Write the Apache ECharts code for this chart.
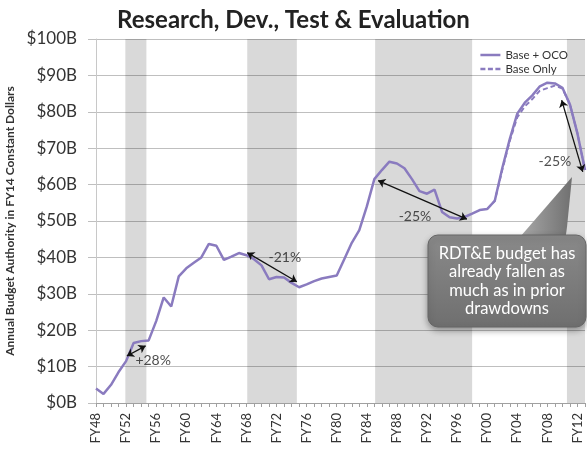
<!DOCTYPE html>
<html>
<head>
<meta charset="utf-8">
<script src="https://cdn.jsdelivr.net/npm/echarts@6/dist/echarts.min.js"></script>
<style>
  html, body { margin: 0; padding: 0; background: #fff; }
  #chart { width: 587px; height: 449px; }
</style>
</head>
<body>
<div id="chart"></div>
<script>
// fiscal years FY48..FY13
const years = [];
for (let y = 1948; y <= 2013; y++) years.push(y);
const categories = years.map(y => 'FY' + String(y).slice(2));

// $B, FY14 constant dollars
const baseOco = [
  4.0, 2.5, 5.0, 8.5, 11.5, 16.5, 17.0, 17.2, 22.5, 29.0,   // 48-57
  26.5, 34.8, 37.0, 38.5, 40.0, 43.7, 43.2, 39.3, 40.2, 41.2, // 58-67
  40.6, 39.5, 37.8, 34.0, 34.6, 34.5, 33.0, 31.8, 32.6, 33.5, // 68-77
  34.2, 34.6, 35.0, 39.5, 44.0, 47.5, 54.0, 61.5, 64.0, 66.3, // 78-87
  65.8, 64.5, 61.5, 58.2, 57.5, 58.6, 52.5, 51.0, 50.7, 51.1, // 88-97
  52.0, 53.0, 53.3, 55.5, 64.5, 72.5, 79.5, 82.5, 84.5, 87.0, // 98-07
  88.0, 87.8, 86.6, 82.0, 74.0, 64.0                          // 08-13
];
// base only differs once OCO funding starts
const baseOnly = [
  null, null, null, null, null, null, null, null, null, null,
  null, null, null, null, null, null, null, null, null, null,
  null, null, null, null, null, null, null, null, null, null,
  null, null, null, null, null, null, null, null, null, null,
  null, null, null, null, null, null, null, null, null, null,
  null, null, 53.3, 55.5, 64.0, 72.0, 78.5, 81.5, 83.5, 85.8,
  86.5, 87.2, 86.4, 82.0, 74.0, 64.0
];

// drawdown periods (gray bands), in fiscal years
const bands = [[1951.9, 1954.7], [1968.1, 1974.7], [1985.1, 1998.0], [2010.6, 2013]];

// double arrows [from, to] as [year, $B]
const arrows = [
  [[1952.1, 12.9], [1954.6, 15.7]],
  [[1968.1, 41.3], [1974.7, 33.3]],
  [[1985.5, 61.1], [1997.3, 50.5]],
  [[2009.9, 83.2], [2012.7, 63.5]]
];
const arrowLabels = [
  { name: '+28%', value: [1955.6, 11.8] },
  { name: '-21%', value: [1973.1, 40.1] },
  { name: '-25%', value: [1990.4, 51.2] },
  { name: '-25%', value: [2009.0, 66.3] }
];

const purple = '#8a7bbf';
const font = 'Lato';

const chart = echarts.init(document.getElementById('chart'));
chart.setOption({
  backgroundColor: '#fff',
  textStyle: { fontFamily: font },
  title: {
    text: 'Research, Dev., Test & Evaluation',
    left: 'center',
    top: 3,
    textStyle: { fontSize: 24, fontWeight: 'bold', color: '#222', fontFamily: font }
  },
  legend: {
    orient: 'vertical',
    right: 14,
    top: 44,
    itemWidth: 20,
    itemHeight: 2.5,
    itemGap: 2,
    textStyle: { fontSize: 11.5, color: '#333' },
    data: [
      { name: 'Base + OCO', icon: 'path://M0,0h20v2.5h-20z' },
      { name: 'Base Only', icon: 'path://M0,0h5v2.5h-5zM7.5,0h5v2.5h-5zM15,0h5v2.5h-5z' }
    ]
  },
  grid: { left: 96, right: 2, top: 39, bottom: 46, outerBoundsMode: 'none' },
  xAxis: [
    {
      type: 'category',
      data: categories,
      boundaryGap: false,
      axisLine: { lineStyle: { color: '#a0a0a0' } },
      axisTick: { interval: 0, length: 4, lineStyle: { color: '#a0a0a0' } },
      axisLabel: { interval: 3, rotate: 90, fontSize: 13, color: '#333', margin: 10 }
    },
    { type: 'value', min: 1948, max: 2013, show: false }
  ],
  yAxis: {
    type: 'value',
    min: 0,
    max: 100,
    interval: 10,
    name: 'Annual Budget Authority in FY14 Constant Dollars',
    nameLocation: 'middle',
    nameGap: 73,
    nameTextStyle: { fontSize: 12, fontWeight: 'bold', color: '#333' },
    axisLine: { show: true, lineStyle: { color: '#c8c8c8' } },
    axisTick: { show: true, length: 8, lineStyle: { color: '#bfbfbf' } },
    axisLabel: { formatter: '${value}B', fontSize: 17, color: '#333', margin: 19 },
    splitLine: { lineStyle: { color: '#bfbfbf' } }
  },
  series: [
    {
      name: 'bands',
      type: 'scatter',
      xAxisIndex: 1,
      data: [],
      z: 1,
      markArea: {
        silent: true,
        itemStyle: { color: 'rgba(0,0,0,0.15)' },
        data: bands.map(b => [{ xAxis: b[0] }, { xAxis: b[1] }])
      }
    },
    {
      name: 'Base Only',
      type: 'line',
      data: baseOnly,
      symbol: 'none',
      z: 3,
      lineStyle: { color: purple, width: 2, type: [5, 3] },
      itemStyle: { color: purple }
    },
    {
      name: 'Base + OCO',
      type: 'line',
      data: baseOco,
      symbol: 'none',
      z: 4,
      lineStyle: { color: purple, width: 2.5 },
      itemStyle: { color: purple }
    },
    {
      type: 'lines',
      coordinateSystem: 'cartesian2d',
      xAxisIndex: 1,
      z: 5,
      symbol: ['arrow', 'arrow'],
      symbolSize: 7,
      lineStyle: { color: '#111', width: 1.3, opacity: 1 },
      data: arrows.map(a => ({ coords: a }))
    },
    {
      type: 'scatter',
      xAxisIndex: 1,
      z: 6,
      symbolSize: 1,
      itemStyle: { color: 'rgba(0,0,0,0)' },
      label: {
        show: true,
        position: 'inside',
        formatter: p => p.name,
        fontSize: 14,
        color: '#222'
      },
      data: arrowLabels
    }
  ],
  graphic: [
    {
      type: 'polygon',
      z: 100,
      shape: { points: [[520, 237], [566, 237], [572, 177]] },
      style: {
        fill: new echarts.graphic.LinearGradient(0, 0, 1, 0, [
          { offset: 0, color: '#a8a8a8' },
          { offset: 1, color: '#707070' }
        ])
      }
    },
    {
      type: 'rect',
      z: 101,
      shape: { x: 428, y: 235, width: 158, height: 92, r: 10 },
      style: {
        fill: new echarts.graphic.LinearGradient(0, 0, 0, 1, [
          { offset: 0, color: '#8a8a8a' },
          { offset: 1, color: '#6f6f6f' }
        ]),
        stroke: '#666',
        lineWidth: 1,
        shadowBlur: 6,
        shadowOffsetY: 3,
        shadowColor: 'rgba(0,0,0,0.35)'
      }
    },
    {
      type: 'text',
      z: 102,
      style: {
        text: 'RDT&E budget has\nalready fallen as\nmuch as in prior\ndrawdowns',
        x: 507,
        y: 281,
        align: 'center',
        verticalAlign: 'middle',
        fill: '#fff',
        font: '16.5px Lato',
        lineHeight: 18.5
      }
    }
  ]
});
</script>
</body>
</html>
